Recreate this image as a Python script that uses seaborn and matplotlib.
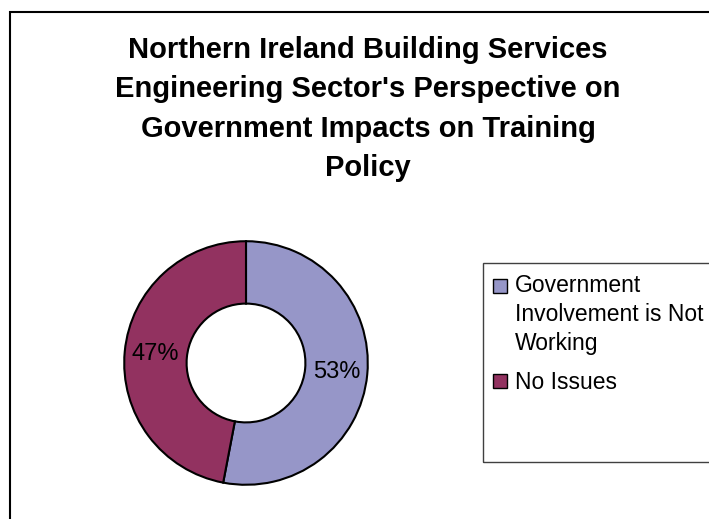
import matplotlib
matplotlib.use("Agg")
import matplotlib.pyplot as plt
from matplotlib.patches import Rectangle
import seaborn as sns

# Survey responses (percent of respondents)
categories = ["Government\nInvolvement is Not\nWorking", "No Issues"]
shares = [53, 47]
colors = ["#9696C8", "#923260"]
title = ("Northern Ireland Building Services\nEngineering Sector's Perspective on\n"
         "Government Impacts on Training\nPolicy")

sns.set_theme(style="white")
plt.rcParams["font.family"] = ["Liberation Sans", "DejaVu Sans"]
plt.rcParams["text.color"] = "black"

W, H = 709, 519
fig = plt.figure(figsize=(W / 100, H / 100), dpi=100)
fig.patch.set_facecolor("white")

# outer chart-area frame (runs off the right and bottom edges)
fig.patches.append(Rectangle((10 / W, -0.05), 1.2, 1 - 12 / H + 0.05,
                             transform=fig.transFigure, fill=False,
                             edgecolor="black", linewidth=1.5))

cx, cy, r = 246, 363, 123
ax = fig.add_axes([(cx - r) / W, (H - cy - r) / H, 2 * r / W, 2 * r / H])
total = sum(shares)
wedges, _, autotexts = ax.pie(
    shares, colors=colors, startangle=90, counterclock=False, radius=1.0,
    autopct=lambda p: f"{round(p * total / 100):d}%", pctdistance=0.75,
    wedgeprops=dict(width=1 - 60 / 123, edgecolor="black", linewidth=1.5),
    textprops=dict(fontsize=17, color="black"))
ax.set_xlim(-1.01, 1.01)
ax.set_ylim(-1.01, 1.01)
ax.axis("off")

fig.text(368 / W, 1 - 109 / H, title, ha="center", va="center",
         fontsize=21, fontweight="bold", linespacing=1.52, color="black")

# legend frame
fig.patches.append(Rectangle((483 / W, 1 - 462 / H), 0.5, (462 - 263) / H,
                             transform=fig.transFigure, fill=False,
                             edgecolor="#404040", linewidth=1.0))
leg = fig.legend(wedges, categories, loc="upper left",
                 bbox_to_anchor=(493 / W, 1 - 274 / H), frameon=False,
                 fontsize=16.5, handlelength=0.62, handleheight=0.62,
                 handletextpad=0.33, labelspacing=0.72, borderpad=0.0,
                 borderaxespad=0.0, labelcolor="black")
for t in leg.get_texts():
    t.set_linespacing(1.32)
for h in leg.legend_handles:
    h.set_edgecolor("black")
    h.set_linewidth(1.0)
# put the marker of the three-line entry beside its first line
first = leg.legend_handles[0]
first.set_y(first.get_y() + 21)

fig.savefig("out.png", dpi=100, facecolor="white")
